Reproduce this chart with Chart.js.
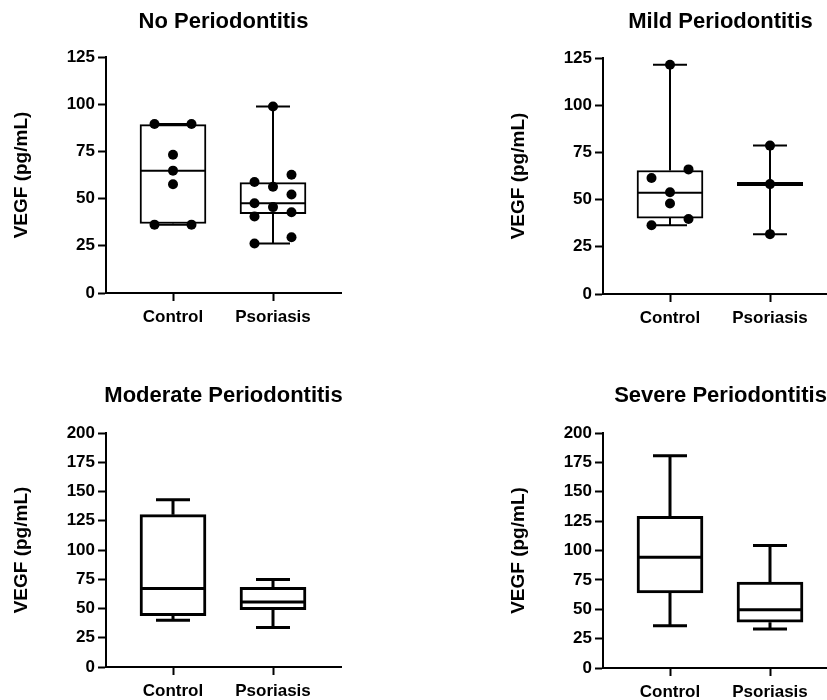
<!DOCTYPE html>
<html>
<head>
<meta charset="utf-8">
<title>VEGF by periodontitis</title>
<script src="https://cdn.jsdelivr.net/npm/chart.js@4.4.1/dist/chart.umd.min.js"></script>
<style>
  html, body { margin: 0; padding: 0; background: #fff; }
  #wrap { position: relative; width: 827px; height: 700px; overflow: hidden; }
  #wrap canvas { position: absolute; }
</style>
</head>
<body>
<div id="wrap">
  <canvas id="chart_no" width="447" height="350" style="left:0;top:0"></canvas>
  <canvas id="chart_mild" width="447" height="350" style="left:497px;top:1px"></canvas>
  <canvas id="chart_moderate" width="447" height="326" style="left:0;top:375px"></canvas>
  <canvas id="chart_severe" width="447" height="326" style="left:497px;top:376px"></canvas>
</div>
<script>
// ==== data ==== //
const panelTitles = ['No Periodontitis', 'Mild Periodontitis', 'Moderate Periodontitis', 'Severe Periodontitis'];
const groupLabels = ['Control', 'Psoriasis'];
const yAxisMax = [125, 125, 200, 200];
const yAxisTitle = 'VEGF (pg/mL)';

// [min, q1, median, q3, max]
const noControlBox = [36.2, 36.8, 64.8, 89.2, 89.5];
const noPsoriasisBox = [26.2, 42, 47.5, 58.5, 98.8];
const mildControlBox = [36.4, 40.2, 53.6, 65.4, 121.4];
const mildPsoriasisBox = [31.7, 58.3, 58.3, 58.3, 78.6];
const moderateControlBox = [40, 43.8, 67, 130.2, 143];
const moderatePsoriasisBox = [33.7, 49, 55.6, 68, 74.7];
const severeControlBox = [36, 63.8, 94.2, 129, 180.7];
const severePsoriasisBox = [33.2, 38.9, 49.6, 73.2, 104.3];

// individual values
const noControlPoints = [89.5, 89.5, 73.2, 64.8, 57.6, 36.2, 36.2];
const noPsoriasisPoints = [98.8, 62.6, 58.8, 56.3, 52.2, 47.5, 45.5, 42.8, 40.5, 29.5, 26.2];
const mildControlPoints = [121.4, 66, 61.4, 53.9, 47.9, 39.7, 36.4];
const mildPsoriasisPoints = [78.6, 58.2, 31.7];

const FONT = '"Liberation Sans", Arial, sans-serif';

// 점들이 겹치지 않게 좌우로 벌려줌 (GraphPad 스타일)
function swarm(values, center, yMax) {
	const sorted = values.slice().sort((a, b) => b - a);
	const near = yMax * 0.045;
	const rows = [];
	sorted.forEach(v => {
		const row = rows[rows.length - 1];
		if (row && row.length < 3 && row[row.length - 1] - v < near) row.push(v);
		else rows.push([v]);
	});
	const slots = {1: [0], 2: [1, -1], 3: [1, -1, 0]};
	const pts = [];
	rows.forEach(row => {
		row.forEach((v, i) => pts.push({x: center + slots[row.length][i] * 0.185, y: v}));
	});
	return pts;
}

// 패널 제목 (플롯 영역 가운데 정렬)
const panelTitlePlugin = {
	id: 'panelTitle',
	afterDraw(chart, args, opts) {
		const ctx = chart.ctx;
		const a = chart.chartArea;
		ctx.save();
		ctx.font = 'bold 22px ' + FONT;
		ctx.fillStyle = '#000';
		ctx.textAlign = 'center';
		ctx.textBaseline = 'middle';
		ctx.fillText(opts.text, (a.left + a.right) / 2, opts.y);
		ctx.restore();
	}
};

// 수염(whisker)과 중앙값 선
const boxWhiskerPlugin = {
	id: 'boxWhisker',
	afterDatasetDraw(chart, args, opts) {
		const ds = chart.data.datasets[args.index];
		if (!ds.stats) return;
		const xs = chart.scales.x, ys = chart.scales.y, ctx = chart.ctx;
		ctx.save();
		ctx.strokeStyle = '#000';
		ds.stats.forEach((s, i) => {
			const cx = xs.getPixelForValue(i + 1);
			const [mn, q1, md, q3, mx] = s.map(v => ys.getPixelForValue(v));
			ctx.lineWidth = opts.lineWidth;
			ctx.beginPath();
			ctx.moveTo(cx, q3); ctx.lineTo(cx, mx);
			ctx.moveTo(cx - opts.capHalf, mx); ctx.lineTo(cx + opts.capHalf, mx);
			ctx.moveTo(cx, q1); ctx.lineTo(cx, mn);
			ctx.moveTo(cx - opts.capHalf, mn); ctx.lineTo(cx + opts.capHalf, mn);
			ctx.stroke();
			// 상자가 납작하면 위/아래 테두리가 겹쳐 두꺼워 보임
			ctx.lineWidth = s[1] === s[3] ? opts.lineWidth * 2 : opts.lineWidth;
			ctx.beginPath();
			ctx.moveTo(cx - opts.boxHalf, md); ctx.lineTo(cx + opts.boxHalf, md);
			ctx.stroke();
		});
		ctx.restore();
	}
};

function makePanel(canvasId, title, yMax, boxes, points, lineW, padTop, padBottom, titleY) {
	const ctx = document.getElementById(canvasId).getContext('2d');
	const scatterData = [];
	points.forEach((vals, i) => scatterData.push(...swarm(vals, i + 1, yMax)));

	return new Chart(ctx, {
		type: 'bar',
		data: {
			datasets: [{
				type: 'scatter',
				data: scatterData,
				pointRadius: 5,
				pointHoverRadius: 5,
				backgroundColor: '#000',
				borderWidth: 0
			}, {
				type: 'bar',
				data: boxes.map((b, i) => ({x: i + 1, y: [b[1], b[3]]})),
				stats: boxes,
				backgroundColor: '#fff',
				borderColor: '#000',
				borderWidth: lineW,
				borderSkipped: false,
				barThickness: 66
			}]
		},
		options: {
			responsive: false,
			animation: false,
			devicePixelRatio: 1,
			layout: {padding: {left: 0, right: 106, top: padTop, bottom: padBottom}},
			plugins: {
				legend: {display: false},
				tooltip: {enabled: false},
				panelTitle: {text: title, y: titleY},
				boxWhisker: {lineWidth: lineW, capHalf: 17, boxHalf: 33}
			},
			scales: {
				x: {
					type: 'linear',
					min: 0.33,
					max: 2.68,
					offset: false,
					afterBuildTicks: s => { s.ticks = [{value: 1}, {value: 2}]; },
					afterFit: s => { s.height = 34; },
					grid: {offset: false, drawOnChartArea: false, tickLength: 8, tickWidth: 2, tickColor: '#000'},
					border: {color: '#000', width: 2},
					ticks: {
						color: '#000',
						font: {family: FONT, size: 17, weight: 'bold'},
						padding: 6,
						maxRotation: 0,
						autoSkip: false,
						callback: v => groupLabels[v - 1]
					}
				},
				y: {
					min: 0,
					max: yMax,
					afterFit: s => { s.width = 106; },
					grid: {drawOnChartArea: false, tickLength: 8, tickWidth: 2, tickColor: '#000'},
					border: {color: '#000', width: 2},
					ticks: {
						stepSize: 25,
						color: '#000',
						font: {family: FONT, size: 17, weight: 'bold'},
						padding: 3,
						autoSkip: false
					},
					title: {
						display: true,
						text: yAxisTitle,
						color: '#000',
						font: {family: FONT, size: 19, weight: 'bold'},
						padding: {top: 10, bottom: 0}
					}
				}
			}
		},
		plugins: [panelTitlePlugin, boxWhiskerPlugin]
	});
}

makePanel('chart_no', panelTitles[0], yAxisMax[0], [noControlBox, noPsoriasisBox],
	[noControlPoints, noPsoriasisPoints], 2, 57, 23, 22);
makePanel('chart_mild', panelTitles[1], yAxisMax[1], [mildControlBox, mildPsoriasisBox],
	[mildControlPoints, mildPsoriasisPoints], 2, 57, 23, 21);
makePanel('chart_moderate', panelTitles[2], yAxisMax[2], [moderateControlBox, moderatePsoriasisBox],
	[[], []], 3, 58, 0, 21);
makePanel('chart_severe', panelTitles[3], yAxisMax[3], [severeControlBox, severePsoriasisBox],
	[[], []], 3, 57, 0, 20);
</script>
</body>
</html>
